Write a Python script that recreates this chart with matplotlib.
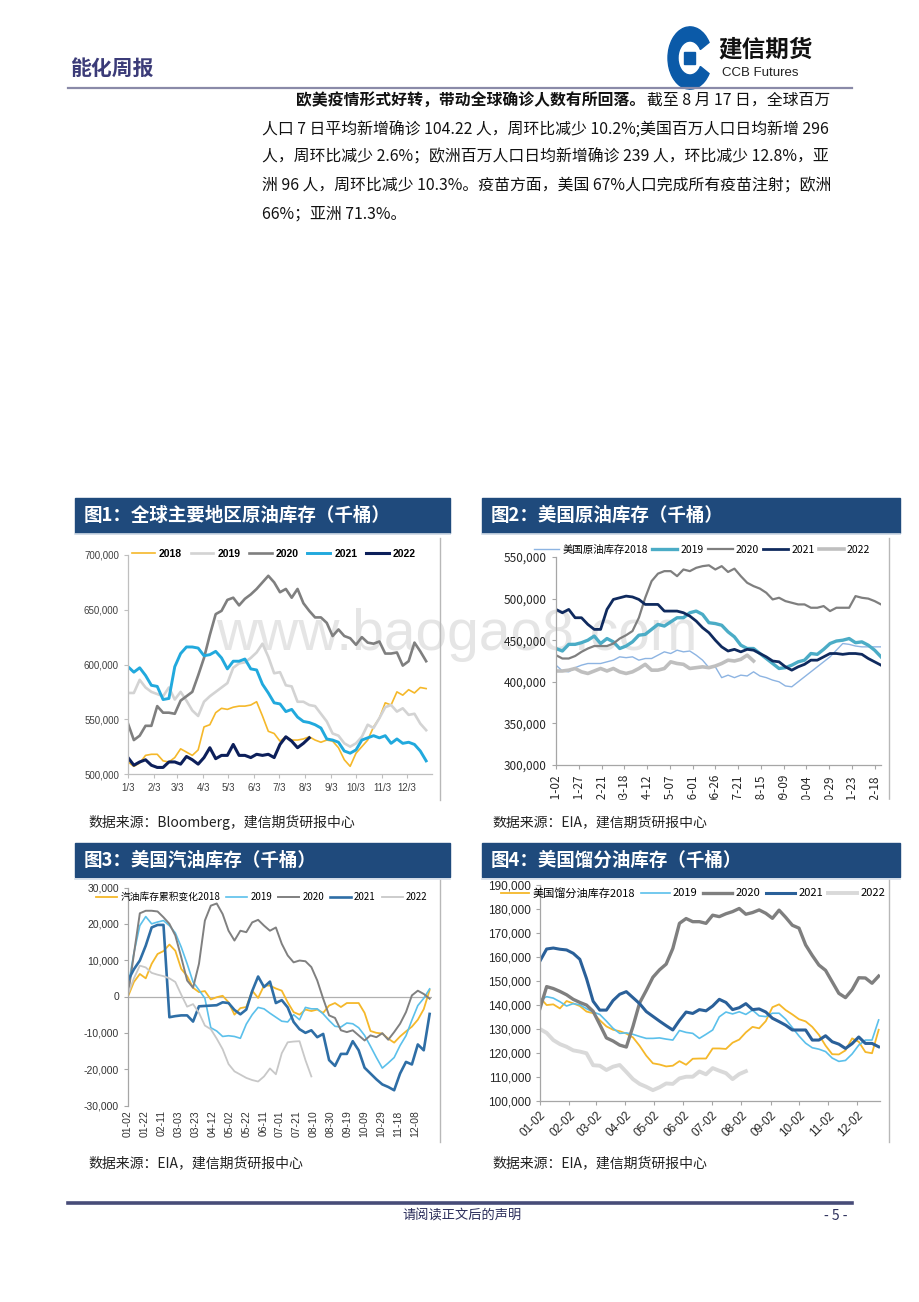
import numpy as np
import matplotlib
matplotlib.use("Agg")
import matplotlib.pyplot as plt
from matplotlib.lines import Line2D
from matplotlib.patches import Rectangle, Wedge
from matplotlib.ticker import FuncFormatter

plt.rcParams["font.family"] = ["Liberation Sans", "Noto Sans CJK SC"]
CJK = ["Noto Sans CJK SC", "DejaVu Sans"]

# ---------------- data (thousand barrels, weekly) ----------------
years = ["2018", "2019", "2020", "2021", "2022"]

# fig 1: global crude stocks
glob_ticks = ["1/3", "2/3", "3/3", "4/3", "5/3", "6/3", "7/3", "8/3", "9/3", "10/3", "11/3", "12/3"]
glob_2018 = [511, 507, 510, 517, 518, 518, 512, 511, 515, 523, 520, 517, 522, 543, 545, 556, 560, 559,
             561, 562, 562, 563, 566, 553, 539, 537, 530, 534, 531, 531, 532, 534, 531, 529, 531, 530,
             524, 513, 507, 519, 525, 531, 543, 551, 565, 563, 575, 572, 577, 574, 579, 578]
glob_2019 = [574, 574, 586, 579, 575, 573, 571, 579, 568, 575, 567, 558, 553, 566, 571, 575, 579, 583,
             597, 601, 602, 606, 611, 619, 607, 592, 593, 581, 580, 566, 566, 563, 562, 555, 548, 537,
             535, 528, 525, 528, 534, 545, 542, 551, 561, 563, 557, 560, 554, 555, 546, 540]
glob_2020 = [546, 531, 535, 544, 544, 562, 556, 556, 555, 567, 571, 575, 590, 606, 627, 646, 649, 659,
             661, 654, 660, 664, 669, 675, 681, 675, 666, 669, 661, 669, 656, 649, 643, 643, 638, 626,
             632, 626, 624, 618, 625, 620, 619, 621, 610, 610, 611, 599, 603, 620, 612, 603]
glob_2021 = [598, 593, 597, 590, 581, 580, 568, 569, 598, 610, 616, 616, 615, 608, 609, 612, 606, 596,
             603, 603, 605, 596, 595, 582, 574, 565, 564, 557, 559, 552, 548, 547, 545, 542, 532, 531,
             529, 521, 519, 522, 531, 533, 535, 533, 535, 528, 532, 528, 529, 527, 521, 512]
glob_2022 = [515, 508, 511, 513, 508, 506, 506, 511, 511, 509, 516, 513, 509, 515, 524, 514, 517, 517,
             527, 517, 517, 515, 518, 517, 518, 515, 527, 534, 530, 524, 528, 533]

# fig 2: US crude stocks
us_ticks = ["01-02", "01-27", "02-21", "03-18", "04-12", "05-07", "06-01", "06-26", "07-21", "08-15",
            "09-09", "10-04", "10-29", "11-23", "12-18"]
us_2018 = [420, 413, 412, 417, 420, 422, 422, 422, 424, 426, 430, 429, 430, 426, 428, 428, 432, 436,
           434, 438, 436, 437, 432, 426, 417, 418, 405, 408, 405, 408, 407, 412, 407, 405, 402, 400,
           395, 394, 400, 406, 412, 418, 424, 430, 438, 446, 445, 443, 442, 442, 442, 442]
us_2019 = [440, 437, 445, 445, 447, 450, 455, 446, 452, 448, 440, 443, 448, 456, 457, 463, 469, 467,
           472, 477, 477, 483, 485, 481, 471, 470, 468, 460, 454, 444, 440, 440, 434, 428, 422, 416,
           417, 420, 424, 426, 434, 433, 439, 446, 449, 450, 452, 447, 448, 444, 438, 430]
us_2020 = [432, 428, 428, 431, 436, 440, 443, 443, 443, 446, 452, 456, 461, 477, 501, 521, 530, 533,
           533, 527, 535, 533, 537, 539, 540, 535, 539, 532, 536, 527, 519, 515, 512, 507, 499, 501,
           497, 495, 493, 493, 489, 489, 491, 485, 489, 489, 489, 503, 501, 500, 497, 493]
us_2021 = [487, 483, 487, 477, 477, 469, 463, 463, 487, 499, 501, 503, 502, 499, 493, 493, 493, 485,
           485, 485, 483, 479, 473, 465, 459, 450, 442, 437, 439, 436, 439, 438, 434, 430, 425, 424,
           418, 414, 418, 421, 426, 426, 430, 434, 434, 433, 434, 434, 433, 428, 424, 420]
us_2022 = [413, 413, 414, 416, 412, 410, 413, 416, 413, 416, 412, 410, 412, 416, 421, 414, 414, 416,
           424, 422, 421, 416, 417, 418, 417, 419, 422, 426, 425, 427, 432, 425]

# fig 3: US gasoline, cumulative change
gas_ticks = ["01-02", "01-22", "02-11", "03-03", "03-23", "04-12", "05-02", "05-22", "06-11", "07-01",
             "07-21", "08-10", "08-30", "09-19", "10-09", "10-29", "11-18", "12-08"]
gas_2018 = [0.0, 4.0, 6.2, 5.0, 9.0, 11.7, 12.5, 14.3, 12.6, 7.6, 5.6, 2.4, 1.2, 1.5, -0.8, -0.2, 0.2,
            -1.6, -5.0, -3.2, -2.9, 1.6, -0.4, 3.0, 3.0, 2.2, 1.6, -1.6, -4.3, -5.0, -3.6, -4.0, -3.6,
            -4.5, -2.5, -1.8, -2.9, -1.8, -1.8, -1.8, -4.5, -9.5, -10.0, -10.2, -11.6, -12.7, -11.0,
            -9.6, -8.3, -6.4, -3.5, 1.8]
gas_2019 = [2.6, 12.0, 19.5, 22.0, 20.0, 20.5, 20.9, 19.5, 17.5, 13.6, 9.0, 4.0, 1.8, -0.5, -8.6, -9.5,
            -11.0, -10.8, -11.0, -11.5, -7.6, -5.0, -3.0, -3.4, -4.6, -5.7, -6.8, -7.0, -5.0, -6.4,
            -3.0, -3.4, -3.4, -4.8, -6.6, -8.2, -8.4, -7.3, -7.5, -8.6, -10.7, -13.7, -16.8, -19.7,
            -18.3, -16.8, -13.5, -10.8, -6.5, -2.5, -0.5, 2.1]
gas_2020 = [0.3, 11.7, 22.9, 23.6, 23.6, 23.4, 21.8, 20.0, 16.8, 10.8, 4.4, 2.4, 9.0, 20.9, 25.0, 25.6,
            22.7, 18.1, 15.4, 18.1, 17.7, 20.4, 21.1, 19.5, 18.1, 19.0, 14.5, 11.3, 9.4, 9.9, 9.7, 8.1,
            4.4, -0.6, -5.2, -5.9, -9.3, -9.8, -9.3, -10.7, -12.1, -10.7, -11.2, -10.1, -11.9, -9.8,
            -7.5, -4.3, 0.3, 1.6, 0.7, -0.6]
gas_2021 = [4.4, 7.5, 9.9, 14.0, 19.0, 19.7, 19.7, -5.7, -5.4, -5.2, -5.2, -6.9, -2.7, -2.6, -2.5,
            -2.4, -1.6, -1.8, -3.7, -4.9, -3.6, 1.5, 5.5, 2.6, 4.1, -1.8, -1.0, -3.0, -7.0, -9.0,
            -10.0, -9.3, -11.2, -10.3, -17.5, -19.1, -15.8, -15.8, -12.3, -14.8, -19.6, -21.2, -22.8,
            -24.2, -24.9, -25.8, -21.2, -18.0, -18.7, -13.2, -14.8, -4.8]
gas_2022 = [0.7, 5.0, 8.5, 8.0, 6.5, 6.0, 5.6, 5.0, 4.0, 0.5, -2.8, -2.1, -4.5, -8.0, -9.0, -11.6,
            -14.5, -18.6, -20.6, -21.5, -22.4, -23.0, -23.4, -22.0, -19.8, -21.4, -15.6, -12.6, -12.4,
            -12.3, -17.5, -22.0]

# fig 4: US distillate stocks
dist_ticks = ["01-02", "02-02", "03-02", "04-02", "05-02", "06-02", "07-02", "08-02", "09-02", "10-02",
              "11-02", "12-02"]
dist_2018 = [143.0, 139.9, 140.2, 138.5, 141.6, 140.6, 139.5, 137.2, 136.5, 133.6, 131.0, 129.6, 129.0,
             128.0, 126.4, 122.9, 118.8, 115.6, 115.1, 114.3, 114.6, 116.5, 115.0, 117.5, 117.6, 117.6,
             121.8, 121.8, 121.6, 124.2, 125.5, 128.5, 130.8, 130.2, 133.2, 139.0, 140.2, 137.8, 136.0,
             134.0, 133.1, 130.8, 127.5, 123.0, 119.4, 119.3, 121.0, 126.0, 124.6, 120.3, 119.8, 129.6]
dist_2019 = [142.0, 143.4, 142.8, 141.3, 139.5, 140.5, 140.0, 138.4, 137.0, 136.0, 133.2, 130.2, 128.1,
             128.3, 127.7, 126.8, 126.0, 126.0, 126.2, 125.7, 125.3, 129.3, 128.5, 128.1, 126.0, 127.7,
             129.5, 135.0, 137.0, 136.2, 137.1, 136.0, 137.8, 135.4, 135.1, 136.5, 136.5, 134.0, 130.5,
             127.0, 124.0, 122.1, 121.5, 120.5, 117.8, 116.4, 116.8, 119.5, 123.2, 125.3, 125.3, 133.7]
dist_2020 = [138.5, 147.6, 146.8, 145.6, 144.2, 142.3, 141.0, 139.9, 137.3, 131.8, 126.2, 124.9, 123.2,
             122.4, 131.0, 140.8, 146.0, 151.5, 154.6, 157.0, 163.5, 174.0, 176.0, 174.7, 174.7, 174.0,
             177.4, 176.8, 178.0, 178.9, 180.2, 177.8, 178.5, 179.6, 178.2, 176.1, 179.5, 176.5, 173.2,
             172.0, 165.0, 160.6, 156.6, 154.4, 149.6, 144.8, 143.0, 146.3, 151.3, 151.2, 149.0, 152.0]
dist_2021 = [158.3, 163.3, 163.7, 163.2, 162.9, 161.5, 159.0, 151.0, 141.5, 137.8, 137.8, 141.8, 144.4,
             145.5, 143.0, 140.5, 137.2, 135.2, 133.2, 131.3, 129.5, 133.5, 137.0, 136.4, 138.0, 137.5,
             139.5, 142.3, 141.0, 138.0, 138.8, 140.5, 138.0, 138.3, 137.0, 134.4, 133.0, 131.5, 129.5,
             129.5, 129.5, 125.3, 125.3, 127.1, 124.6, 123.6, 121.8, 123.8, 126.6, 123.9, 123.9, 122.5]
dist_2022 = [129.9, 128.3, 125.3, 123.6, 122.5, 121.0, 120.5, 119.8, 114.8, 114.6, 112.8, 114.2, 114.9,
             112.0, 109.0, 107.0, 105.8, 104.4, 105.6, 107.2, 107.0, 109.3, 110.0, 110.0, 112.2, 111.0,
             113.6, 112.5, 111.5, 109.0, 111.1, 112.3]

# ---------------- page geometry helpers ----------------
W, H = 920, 1302
fig = plt.figure(figsize=(W / 100, H / 100), dpi=100)


def fx(x):
    return x / W


def fy(y):
    return 1 - y / H


def axes_px(left, top, right, bottom):
    return fig.add_axes([fx(left), fy(bottom), (right - left) / W, (bottom - top) / H])


def hline(x0, x1, y, color, lw):
    fig.add_artist(Line2D([fx(x0), fx(x1)], [fy(y), fy(y)], transform=fig.transFigure, color=color, lw=lw))


def vline(x, y0, y1, color, lw):
    fig.add_artist(Line2D([fx(x), fx(x)], [fy(y0), fy(y1)], transform=fig.transFigure, color=color, lw=lw))


def week_of(label, sep):
    m, d = [int(s) for s in label.split(sep)]
    days = [0, 31, 59, 90, 120, 151, 181, 212, 243, 273, 304, 334][m - 1] + d
    return (days - 3 if sep == "/" else days - 2) / 7.0


kfmt = FuncFormatter(lambda v, p: f"{v * 1000:,.0f}")


def style_axes(ax, spine_col, label_col, fs):
    ax.set_facecolor("none")
    for s in ["top", "right"]:
        ax.spines[s].set_visible(False)
    for s in ["left", "bottom"]:
        ax.spines[s].set_color(spine_col)
        ax.spines[s].set_linewidth(0.9)
    ax.tick_params(colors=spine_col, labelcolor=label_col, labelsize=fs, length=3, width=0.8)
    ax.yaxis.set_major_formatter(kfmt)


# ---------------- header ----------------
fig.text(fx(70), fy(68), "能化周报", family=CJK, fontsize=15, fontweight="bold", color="#3b3b78",
         va="center", ha="left")
hline(68, 852, 88, "#8a8aa8", 1.6)
fig.add_artist(Wedge((fx(690), fy(58)), 22 / W, 30, 330, width=10 / W, transform=fig.transFigure,
                     color="#0b5aa8"))
fig.add_artist(Rectangle((fx(684.5), fy(63.5)), 11 / W, 11 / H, transform=fig.transFigure, color="#0b5aa8"))
fig.text(fx(718), fy(50), "建信期货", family=CJK, fontsize=17, fontweight="bold", color="#111111",
         va="center", ha="left")
fig.text(fx(722), fy(73), "CCB Futures", fontsize=9.5, color="#222222", va="center", ha="left")

# ---------------- body text ----------------
body_fs = 11.4
fig.text(fx(296), fy(100), "欧美疫情形式好转，带动全球确诊人数有所回落。", family=CJK, fontsize=body_fs,
         fontweight="bold", color="#111111", va="center", ha="left")
fig.text(fx(830), fy(100), "截至 8 月 17 日，全球百万", family=CJK, fontsize=body_fs, color="#111111",
         va="center", ha="right")
body_lines = [
    "人口 7 日平均新增确诊 104.22 人，周环比减少 10.2%;美国百万人口日均新增 296",
    "人，周环比减少 2.6%；欧洲百万人口日均新增确诊 239 人，环比减少 12.8%，亚",
    "洲 96 人，周环比减少 10.3%。疫苗方面，美国 67%人口完成所有疫苗注射；欧洲",
    "66%；亚洲 71.3%。",
]
for i, line in enumerate(body_lines):
    fig.text(fx(262), fy(129 + 28.5 * i), line, family=CJK, fontsize=body_fs, color="#111111",
             va="center", ha="left")

# watermark (behind the charts)
fig.text(fx(457), fy(650), "www.baogao8.com", fontsize=41, color="#e5e5e5", ha="center",
         va="baseline", zorder=-1)

# ---------------- panel frames ----------------
titles = [
    ("图1：全球主要地区原油库存（千桶）", 75, 450, 498, 533),
    ("图2：美国原油库存（千桶）", 482, 900, 498, 533),
    ("图3：美国汽油库存（千桶）", 75, 450, 843, 877),
    ("图4：美国馏分油库存（千桶）", 482, 900, 843, 877),
]
for t, x0, x1, y0, y1 in titles:
    fig.add_artist(Rectangle((fx(x0), fy(y1)), (x1 - x0) / W, (y1 - y0) / H, transform=fig.transFigure,
                             color="#1f4a7c"))
    hline(x0, x1, y1 + 1.5, "#d3dde8", 1.2)
    fig.text(fx(x0 + 9), fy((y0 + y1) / 2), t, family=CJK, fontsize=13.3, fontweight="bold",
             color="white", va="center", ha="left")

vline(440, 538, 800, "#b8b8b8", 1.0)
vline(889, 538, 800, "#b8b8b8", 1.0)
vline(440, 880, 1142, "#b8b8b8", 1.0)
vline(889, 880, 1142, "#b8b8b8", 1.0)

src_col = "#222222"
fig.text(fx(88), fy(822), "数据来源：Bloomberg，建信期货研报中心", family=CJK, fontsize=10, color=src_col,
         va="center", ha="left")
fig.text(fx(492), fy(822), "数据来源：EIA，建信期货研报中心", family=CJK, fontsize=10, color=src_col,
         va="center", ha="left")
fig.text(fx(88), fy(1163), "数据来源：EIA，建信期货研报中心", family=CJK, fontsize=10, color=src_col,
         va="center", ha="left")
fig.text(fx(492), fy(1163), "数据来源：EIA，建信期货研报中心", family=CJK, fontsize=10, color=src_col,
         va="center", ha="left")

# ---------------- chart 1 ----------------
ax1 = axes_px(128, 555, 432, 774)
c1 = ["#f5b82a", "#d3d3d3", "#7f7f7f", "#21a9dd", "#0c1f5a"]
w1 = [1.2, 1.9, 1.9, 2.1, 2.2]
for y, s, c, lw in zip(years, [glob_2018, glob_2019, glob_2020, glob_2021, glob_2022], c1, w1):
    ax1.plot(np.arange(len(s)), s, color=c, lw=lw, label=y)
ax1.set_xlim(0, 52)
ax1.set_ylim(500, 700)
ax1.set_yticks([500, 550, 600, 650, 700])
ax1.set_xticks([week_of(t, "/") for t in glob_ticks])
ax1.set_xticklabels(glob_ticks)
style_axes(ax1, "#bfbfbf", "#404040", 7)
ax1.legend(loc="center", bbox_to_anchor=(0.48, 1.005), ncol=5, frameon=False,
           prop={"weight": "bold", "size": 7.5}, handlelength=2.2, handletextpad=0.4, columnspacing=0.8)

# ---------------- chart 2 ----------------
ax2 = axes_px(556, 557, 881, 765)
c2 = ["#8db4e2", "#4bacc6", "#7f7f7f", "#0f2a5e", "#bfbfbf"]
w2 = [1.0, 2.4, 1.6, 2.0, 2.6]
lab2 = ["美国原油库存2018"] + years[1:]
for y, s, c, lw in zip(lab2, [us_2018, us_2019, us_2020, us_2021, us_2022], c2, w2):
    ax2.plot(np.arange(len(s)), s, color=c, lw=lw, label=y)
ax2.set_xlim(0, 51)
ax2.set_ylim(300, 550)
ax2.set_yticks([300, 350, 400, 450, 500, 550])
ax2.set_xticks([week_of(t, "-") for t in us_ticks])
ax2.set_xticklabels(us_ticks, rotation=90, family=CJK)
style_axes(ax2, "#a6a6a6", "#262626", 8.5)
for lbl in ax2.get_yticklabels():
    lbl.set_family(CJK)
ax2.legend(loc="center", bbox_to_anchor=(0.45, 1.035), ncol=5, frameon=False,
           prop={"family": CJK, "size": 7.5}, handlelength=2.4, handletextpad=0.3, columnspacing=0.4)
# bottom of the source image is cropped through the date labels
fig.add_artist(Rectangle((fx(480), fy(815)), 420 / W, 15 / H, transform=fig.transFigure, color="white",
                         zorder=5))

# ---------------- chart 3 ----------------
ax3 = axes_px(128, 887.5, 432, 1105.5)
c3 = ["#f5b82a", "#5bc0eb", "#808080", "#2e6ea6", "#c8c8c8"]
w3 = [1.3, 1.2, 1.4, 1.9, 1.3]
lab3 = ["汽油库存累积变化2018"] + years[1:]
ax3.axhline(0, color="#b0b0b0", lw=0.9, zorder=1)
for y, s, c, lw in zip(lab3, [gas_2018, gas_2019, gas_2020, gas_2021, gas_2022], c3, w3):
    ax3.plot(np.arange(len(s)), s, color=c, lw=lw, label=y, zorder=2)
ax3.set_xlim(0, 51.4)
ax3.set_ylim(-30, 30)
ax3.set_yticks([-30, -20, -10, 0, 10, 20, 30])
ax3.set_xticks([week_of(t, "-") for t in gas_ticks])
ax3.set_xticklabels(gas_ticks, rotation=90)
style_axes(ax3, "#a6a6a6", "#333333", 7.5)
ax3.spines["bottom"].set_visible(False)
ax3.tick_params(axis="x", length=0)
ax3.legend(loc="center", bbox_to_anchor=(0.44, 0.956), ncol=5, frameon=False,
           prop={"family": CJK, "size": 7}, handlelength=2.2, handletextpad=0.3, columnspacing=0.6)

# ---------------- chart 4 ----------------
ax4 = axes_px(540, 885, 880, 1100.7)
c4 = ["#f5b82a", "#5bc0eb", "#7f7f7f", "#2a6099", "#d9d9d9"]
w4 = [1.3, 1.2, 2.4, 2.2, 2.8]
lab4 = ["美国馏分油库存2018"] + years[1:]
for y, s, c, lw in zip(lab4, [dist_2018, dist_2019, dist_2020, dist_2021, dist_2022], c4, w4):
    ax4.plot(np.arange(len(s)), s, color=c, lw=lw, label=y)
ax4.set_xlim(0, 51.2)
ax4.set_ylim(100, 190)
ax4.set_yticks(np.arange(100, 191, 10))
ax4.set_xticks([week_of(t, "-") for t in dist_ticks])
ax4.set_xticklabels(dist_ticks, rotation=45, ha="right", rotation_mode="anchor")
style_axes(ax4, "#a6a6a6", "#262626", 8.5)
ax4.legend(loc="center", bbox_to_anchor=(0.45, 0.963), ncol=5, frameon=False,
           prop={"family": CJK, "size": 8}, handlelength=2.6, handletextpad=0.3, columnspacing=0.5)

# ---------------- footer ----------------
hline(68, 852, 1203, "#474c78", 2.6)
fig.text(fx(462), fy(1216), "请阅读正文后的声明", family=CJK, fontsize=9.5, color="#2a2d5a",
         va="center", ha="center")
fig.text(fx(836), fy(1216), "- 5 -", family=CJK, fontsize=10, color="#2a2d5a", va="center", ha="center")

fig.savefig("out.png", dpi=100)
